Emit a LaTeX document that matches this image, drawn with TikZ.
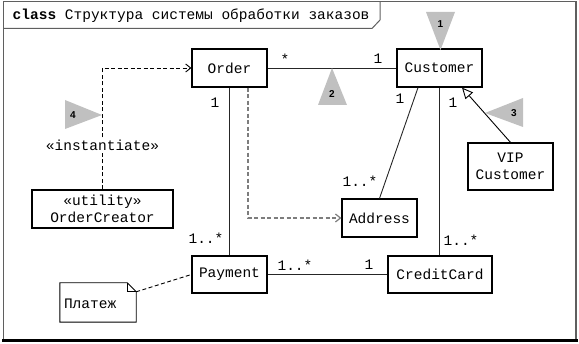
\documentclass[tikz,border=0pt]{standalone}
\usepackage{fontspec}
\setmainfont{Liberation Mono}
\newfontfamily\markfont{Liberation Sans}
\usepackage{xcolor}
\usepackage{tikz}
\usetikzlibrary{arrows.meta}
\definecolor{framegray}{RGB}{95,95,95}
\definecolor{markgray}{RGB}{192,192,192}
\definecolor{depgray}{RGB}{125,125,125}

\begin{document}
\begin{tikzpicture}[x=1pt, y=-1pt,
  every node/.style={font=\fontsize{14.5}{17}\selectfont},
  cls/.style={draw, line width=1.2pt, minimum height=38pt, inner sep=0pt, align=center},
  mult/.style={inner sep=0pt},
  assoc/.style={line width=0.9pt, draw=black!85},
  dashline/.style={dash pattern=on 4pt off 2.5pt},
  marklabel/.style={inner sep=0pt, font=\markfont\fontsize{10}{12}\selectfont\bfseries}]
  \useasboundingbox (0,0) rectangle (579,344);
  % Frame and title tab
  \draw[framegray, line width=1pt] (3,2) rectangle (576,340);
  \draw[framegray, line width=2pt] (576,2) -- (576,340);
  \draw[black, line width=3pt] (2,341) -- (578,341);
  \draw[framegray, line width=1pt] (3,28.5) -- (372,28.5) -- (380,20) -- (380,2);
  \node[anchor=west, inner sep=0pt] (title) at (12.5,15.5)
        {\textbf{class} Структура системы обработки заказов};
  % Classes
  \node[cls, minimum width=75pt] (order) at (229.5,68) {Order};
  \node[cls, minimum width=85pt] (customer) at (439.5,68) {Customer};
  \node[cls, minimum width=85pt, minimum height=47pt] (vip) at (510.5,166.5) {VIP\\Customer};
  \node[cls, minimum width=75pt] (address) at (379.5,218) {Address};
  \node[cls, minimum width=104pt, minimum height=37pt] (card) at (440,274.5) {CreditCard};
  \node[cls, minimum width=141pt] (creator) at (102.5,209) {«utility»\\OrderCreator};
  \node[cls, minimum width=75pt, minimum height=37pt] (payment) at (229.5,274.5) {Payment};
  % Note
  \node[minimum width=76pt, minimum height=39pt, inner sep=0pt] (note) at (98,302.5) {};
  \node[anchor=west, inner sep=0pt] (notetext) at ([xshift=4pt,yshift=-1.5pt]note.west) {Платеж};
  \draw[line width=0.9pt] (note.north west) -- ([xshift=-9pt]note.north east)
        -- ([yshift=-9pt]note.north east) -- (note.south east) -- (note.south west) -- cycle;
  \draw[line width=0.9pt] ([xshift=-9pt]note.north east) -- ([xshift=-9pt,yshift=-9pt]note.north east)
        -- ([yshift=-9pt]note.north east);
  \coordinate (noteear) at ([yshift=-9pt]note.north east);
  % Order -- Customer
  \draw[assoc] (order) -- (customer);
  \node[mult] (m-oc-o) at (285,59) {*};
  \node[mult] (m-oc-c) at (378,59) {1};
  % Order -- Payment
  \draw[assoc] (order) -- (payment);
  \node[mult] (m-op-o) at (215,103) {1};
  \node[mult] (m-op-p) at (206,238) {1..*};
  % Order uses Address
  \draw[dashline, depgray, line width=1.2pt, -{Straight Barb[length=5pt, width=8pt]}]
        ([xshift=18.5pt]order.south) |- (address.west);
  % Customer -- Address
  \draw[assoc] ([xshift=-21.5pt]customer.south) -- (address.north);
  \node[mult] (m-ca-c) at (400,99) {1};
  \node[mult] (m-ca-a) at (360,181) {1..*};
  % Customer -- CreditCard
  \draw[assoc] (customer.south) -- (customer.south |- card.north);
  \node[mult] (m-cc-c) at (453,103) {1};
  \node[mult] (m-cc-k) at (461,240) {1..*};
  % VIP Customer is a Customer
  \draw[line width=0.9pt, -{Triangle[open, length=11pt, width=10pt]}]
        (vip.north) -- ([xshift=22.5pt]customer.south);
  % Payment -- CreditCard
  \draw[assoc] (payment) -- (card);
  \node[mult] (m-pc-p) at (295,265) {1..*};
  \node[mult] (m-pc-c) at (369,265) {1};
  % OrderCreator instantiates Order
  \draw[dashline, line width=0.9pt, -{Straight Barb[length=5pt, width=8pt]}]
        (creator.north) |- (order.west);
  \node[fill=white, inner sep=1pt] (inst) at (102.5,145) {«instantiate»};
  % Note link
  \draw[dashline, line width=0.9pt] (noteear) -- (payment.west);
  % Numbered markers
  \fill[markgray] (426,12) -- (455,12) -- (440.5,50) -- cycle;
  \node[marklabel] (n1) at (440.5,24) {1};
  \fill[markgray] (318,105) -- (347,105) -- (332,68) -- cycle;
  \node[marklabel] (n2) at (332,94) {2};
  \fill[markgray] (523,98) -- (523,127) -- (485,113) -- cycle;
  \node[marklabel] (n3) at (514,113) {3};
  \fill[markgray] (65,100) -- (65,129) -- (102,115) -- cycle;
  \node[marklabel] (n4) at (73,115) {4};
\end{tikzpicture}
\end{document}
